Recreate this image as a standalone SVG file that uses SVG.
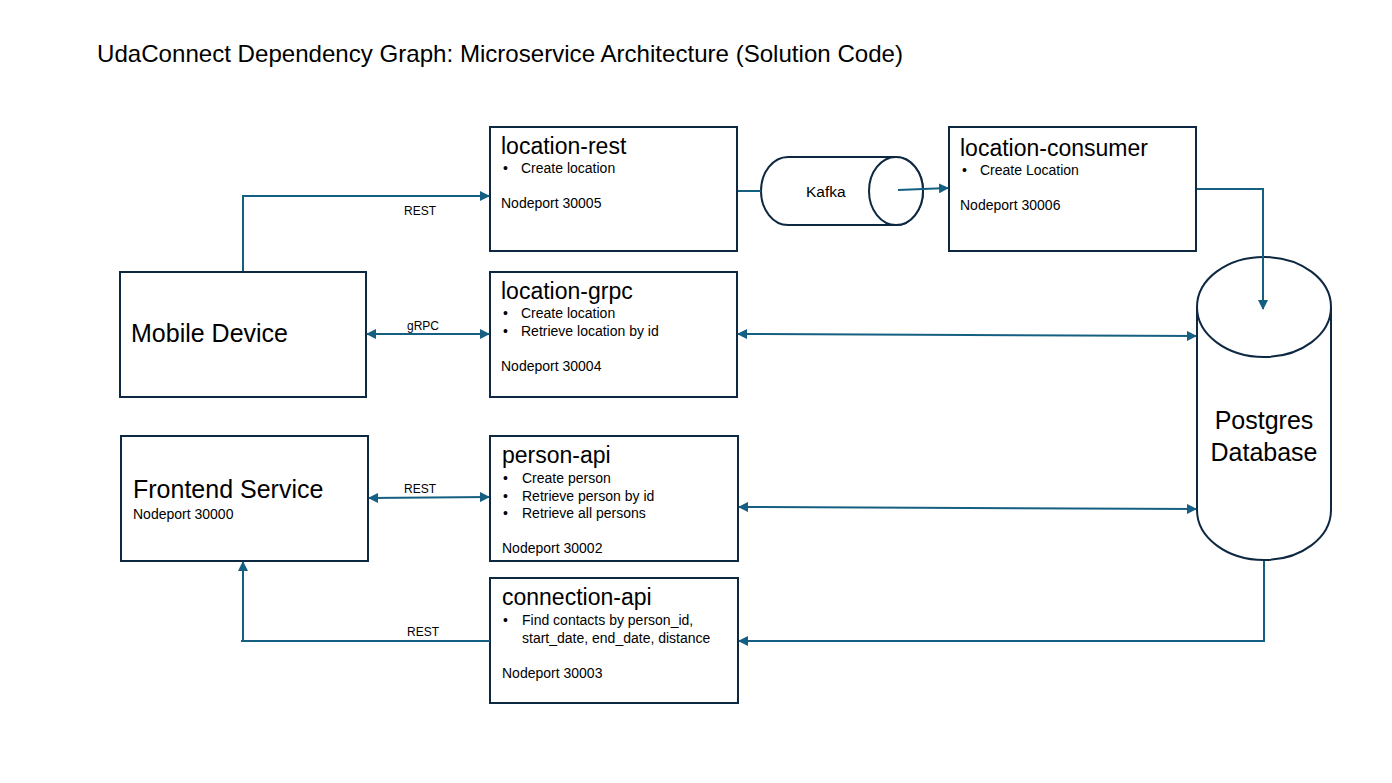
<svg xmlns="http://www.w3.org/2000/svg" width="1392" height="783" viewBox="0 0 1392 783">
<style>
.box{fill:#fff;stroke:#0e2841;stroke-width:2}
.con{fill:none;stroke:#156082;stroke-width:2}
text{font-family:"Liberation Sans",Arial,sans-serif;fill:#000}
.t{font-size:23px}
.s{font-size:14px}
.l{font-size:12px}
.big{font-size:25px}
</style>
<defs>
<marker id="ah" viewBox="0 0 10 10" refX="9" refY="5" markerWidth="5" markerHeight="5" orient="auto-start-reverse">
<path d="M0,0 L10,5 L0,10 z" fill="#156082"/>
</marker>
</defs>
<rect width="1392" height="783" fill="#fff"/>
<text x="97" y="62" font-size="24" textLength="806" lengthAdjust="spacingAndGlyphs">UdaConnect Dependency Graph: Microservice Architecture (Solution Code)</text>

<g id="location-rest">
<rect class="box" x="490" y="127" width="247" height="124"/>
<text class="t" x="501" y="154">location-rest</text>
<text class="s" x="503" y="173">•</text><text class="s" x="521" y="173">Create location</text>
<text class="s" x="501" y="208">Nodeport 30005</text>
</g>

<g id="kafka">
<path class="box" d="M788,157 H896 A27,34 0 0 1 896,225 H788 A27,34 0 0 1 788,157 z"/>
<ellipse class="box" cx="896" cy="191" rx="27" ry="34"/>
<text x="806" y="197" font-size="15.5">Kafka</text>
</g>

<g id="location-consumer">
<rect class="box" x="949" y="127" width="247" height="124"/>
<text class="t" x="960" y="156">location-consumer</text>
<text class="s" x="962" y="175">•</text><text class="s" x="980" y="175">Create Location</text>
<text class="s" x="960" y="210">Nodeport 30006</text>
</g>

<g id="mobile-device">
<rect class="box" x="120" y="272" width="246" height="125"/>
<text class="big" x="131" y="342">Mobile Device</text>
</g>

<g id="location-grpc">
<rect class="box" x="490" y="272" width="247" height="125"/>
<text class="t" x="501" y="299">location-grpc</text>
<text class="s" x="503" y="318">•</text><text class="s" x="521" y="318">Create location</text>
<text class="s" x="503" y="336">•</text><text class="s" x="521" y="336">Retrieve location by id</text>
<text class="s" x="501" y="371">Nodeport 30004</text>
</g>

<g id="frontend-service">
<rect class="box" x="121" y="436" width="247" height="125"/>
<text class="big" x="133" y="498">Frontend Service</text>
<text class="s" x="133" y="519">Nodeport 30000</text>
</g>

<g id="person-api">
<rect class="box" x="490" y="436" width="248" height="125"/>
<text class="t" x="502" y="463">person-api</text>
<text class="s" x="503" y="483">•</text><text class="s" x="522" y="483">Create person</text>
<text class="s" x="503" y="501">•</text><text class="s" x="522" y="501">Retrieve person by id</text>
<text class="s" x="503" y="518">•</text><text class="s" x="522" y="518">Retrieve all persons</text>
<text class="s" x="502" y="553">Nodeport 30002</text>
</g>

<g id="connection-api">
<rect class="box" x="490" y="578" width="248" height="125"/>
<text class="t" x="502" y="605">connection-api</text>
<text class="s" x="503" y="625">•</text><text class="s" x="522" y="625">Find contacts by person_id,</text>
<text class="s" x="522" y="643">start_date, end_date, distance</text>
<text class="s" x="502" y="678">Nodeport 30003</text>
</g>

<g id="postgres">
<path class="box" d="M1197,307 V510 A67,50 0 0 0 1331,510 V307"/>
<ellipse class="box" cx="1264" cy="307" rx="67" ry="50"/>
<text class="big" x="1264" y="429" text-anchor="middle">Postgres</text>
<text class="big" x="1264" y="461" text-anchor="middle">Database</text>
</g>

<g id="connectors">
<path class="con" d="M243,271 V196 H489" marker-end="url(#ah)"/>
<path class="con" d="M738,191 H761"/>
<path class="con" d="M898,190 L948,188" marker-end="url(#ah)"/>
<path class="con" d="M1197,189 H1263 V309" marker-end="url(#ah)"/>
<path class="con" d="M367,334 H489" marker-start="url(#ah)" marker-end="url(#ah)"/>
<path class="con" d="M738,334 L1196,336" marker-start="url(#ah)" marker-end="url(#ah)"/>
<path class="con" d="M369,498 L489,497" marker-start="url(#ah)" marker-end="url(#ah)"/>
<path class="con" d="M739,507 L1196,509" marker-start="url(#ah)" marker-end="url(#ah)"/>
<path class="con" d="M1264,561 V641 H739" marker-end="url(#ah)"/>
<path class="con" d="M490,641 H241 M243,641 V562" marker-end="url(#ah)"/>
<text class="l" x="404" y="215">REST</text>
<text class="l" x="407" y="330">gRPC</text>
<text class="l" x="404" y="493">REST</text>
<text class="l" x="407" y="636">REST</text>
</g>
</svg>
